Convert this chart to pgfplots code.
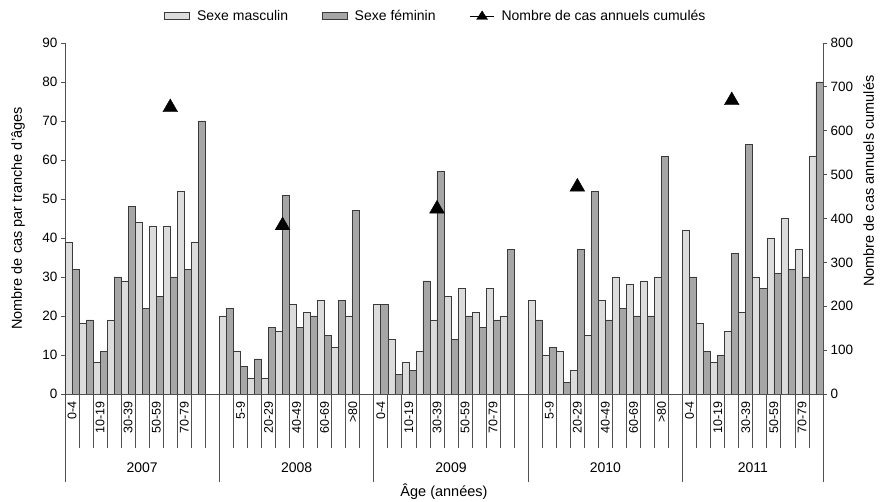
\documentclass[border=0pt]{standalone}
\usepackage{fontspec}
\setmainfont{Liberation Sans}
\usepackage{pgfplots}
\pgfplotsset{compat=1.18}
\usepackage{pgfplotstable}
\definecolor{lightbar}{HTML}{DCDCDC}
\definecolor{darkbar}{HTML}{A6A6A6}
\definecolor{barline}{HTML}{3A3A3A}
\definecolor{axisgray}{HTML}{505050}

\pgfplotstableread{
x y
0 39
1 18
2 8
3 19
4 29
5 44
6 43
7 43
8 52
9 39
11 20
12 11
13 4
14 4
15 16
16 23
17 21
18 24
19 12
20 20
22 23
23 14
24 8
25 11
26 19
27 25
28 27
29 21
30 27
31 20
33 24
34 10
35 11
36 6
37 15
38 24
39 30
40 28
41 29
42 30
44 42
45 18
46 8
47 16
48 21
49 30
50 40
51 45
52 37
53 61
}\male

\pgfplotstableread{
x y
0 32
1 19
2 11
3 30
4 48
5 22
6 25
7 30
8 32
9 70
11 22
12 7
13 9
14 17
15 51
16 17
17 20
18 15
19 24
20 47
22 23
23 5
24 6
25 29
26 57
27 14
28 20
29 17
30 19
31 37
33 19
34 12
35 3
36 37
37 52
38 19
39 22
40 20
41 20
42 61
44 30
45 11
46 10
47 36
48 64
49 27
50 31
51 32
52 30
53 80
}\female

\pgfplotstableread{
x y
7 653
15 384
26 422
36 472
47 669
}\cumul

\begin{document}
\begin{tikzpicture}
\pgfplotsset{
  base/.style={
    at={(0,0)}, anchor=south west, scale only axis,
    width=758pt, height=351pt,
    xmin=-0.5, xmax=53.5,
    /pgf/number format/assume math mode=true,
    tick align=outside,
    axis line style={-, axisgray, line width=0.8pt},
    every outer x axis line/.append style={-},
    every outer y axis line/.append style={-},
    tick style={axisgray, line width=0.8pt},
    tick label style={font=\fontsize{13.5}{15}\selectfont},
    label style={font=\fontsize{14.5}{16}\selectfont},
    clip=false,
  }
}
\begin{axis}[base,
  ymin=0, ymax=90, ytick={0,10,...,90},
  axis y line*=left, axis x line*=bottom,
  major tick length=4pt,
  xtick={0,2,...,52},
  xticklabels={0-4,10-19,30-39,50-59,70-79,{},5-9,20-29,40-49,60-69,>80,0-4,10-19,30-39,50-59,70-79,{},5-9,20-29,40-49,60-69,>80,0-4,10-19,30-39,50-59,70-79},
  xticklabel style={rotate=90, anchor=east, font=\fontsize{12.5}{14}\selectfont},
  major x tick style={draw=none},
  minor xtick={-0.5,0.5,...,53.5},
  minor tick length=54pt,
  minor x tick style={axisgray, line width=0.8pt},
  ybar, bar width=7.02pt,
  xlabel={Âge (années)},
  xlabel style={at={(axis description cs:0.5,0)}, anchor=center, yshift=-98pt},
  ylabel={Nombre de cas par tranche d'âges},
  ylabel style={at={(axis description cs:-0.062,0.5)}, anchor=center},
  legend style={at={(0.4894,1.077)}, anchor=center, draw=none, fill=none,
    legend columns=3, font=\fontsize{14}{16}\selectfont,
    /tikz/every odd column/.append style={column sep=5pt},
    /tikz/every even column/.append style={column sep=32pt}},
  legend cell align=left,
]
\addplot[fill=lightbar, draw=barline, line width=0.7pt, bar shift=-3.51pt,
  legend image code/.code={\draw[fill=lightbar,draw=barline,line width=0.6pt] (0pt,-3pt) rectangle (25pt,4pt);}]
  table[x=x,y=y] {\male};
\addlegendentry{Sexe masculin}
\addplot[fill=darkbar, draw=barline, line width=0.7pt, bar shift=3.51pt,
  legend image code/.code={\draw[fill=darkbar,draw=barline,line width=0.6pt] (0pt,-3pt) rectangle (25pt,4pt);}]
  table[x=x,y=y] {\female};
\addlegendentry{Sexe féminin}
\addlegendimage{legend image code/.code={\draw[black,line width=0.9pt] (0pt,0pt)--(24pt,0pt); \fill[black] (12pt,5pt)--(6.5pt,-3.5pt)--(17.5pt,-3.5pt)--cycle;}}
\addlegendentry{Nombre de cas annuels cumulés}
\node[font=\fontsize{14}{16}\selectfont, yshift=-74pt] at (axis cs:5,0) {2007};
\node[font=\fontsize{14}{16}\selectfont, yshift=-74pt] at (axis cs:16,0) {2008};
\node[font=\fontsize{14}{16}\selectfont, yshift=-74pt] at (axis cs:27,0) {2009};
\node[font=\fontsize{14}{16}\selectfont, yshift=-74pt] at (axis cs:38,0) {2010};
\node[font=\fontsize{14}{16}\selectfont, yshift=-74pt] at (axis cs:48.5,0) {2011};
\end{axis}

\begin{axis}[base,
  ymin=0, ymax=800, ytick={0,100,...,800},
  axis y line*=right, axis x line=none,
  major tick length=4pt,
  ylabel={Nombre de cas annuels cumulés},
  ylabel style={at={(axis description cs:1.067,0.305)}, anchor=base west, inner sep=0pt},
]
\addplot[only marks, mark=triangle*, mark size=8.5pt, mark options={fill=black, draw=black}]
  table[x=x,y=y] {\cumul};
\end{axis}

\begin{axis}[base,
  ymin=0, ymax=1,
  axis x line*=bottom, hide y axis,
  xtick={-0.5,10.5,21.5,32.5,43.5,53.5}, xticklabels={},
  major tick length=88pt,
]
\end{axis}
\pgfresetboundingbox
\useasboundingbox (-65pt,-108pt) rectangle (815pt,394pt);
\end{tikzpicture}
\end{document}
